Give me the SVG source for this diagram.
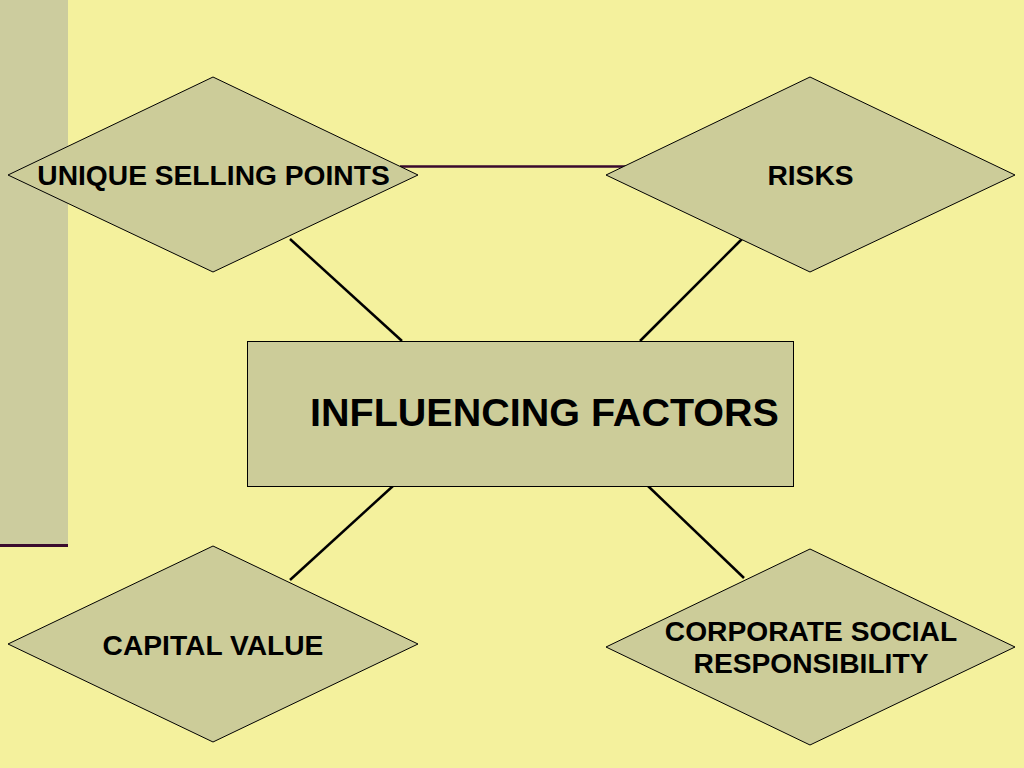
<svg xmlns="http://www.w3.org/2000/svg" width="1024" height="768" viewBox="0 0 1024 768">
<style>
.shape{fill:#CCCC99;stroke:#000;stroke-width:1}
.lbl{font-family:"Liberation Sans",Arial,sans-serif;font-weight:bold;font-size:28.2px;fill:#000;text-anchor:middle}
.conn{stroke:#000;stroke-width:2.5;fill:none}
</style>
<rect x="0" y="0" width="1024" height="768" fill="#F4F19D"/>
<g id="sidebar">
<rect x="0" y="0" width="68" height="545" fill="#CCCC9E"/>
<line x1="0" y1="545.5" x2="68" y2="545.5" stroke="#3A0A2E" stroke-width="3"/>
</g>
<g id="connectors">
<line x1="400" y1="166.5" x2="630" y2="166.5" stroke="#3A0A2E" stroke-width="2.5"/>
<line class="conn" x1="290" y1="239" x2="402" y2="341"/>
<line class="conn" x1="742" y1="239" x2="640" y2="341"/>
<line class="conn" x1="393" y1="486" x2="290" y2="580"/>
<line class="conn" x1="648" y1="486" x2="744" y2="578"/>
</g>
<g id="usp">
<polygon class="shape" points="213,77 418,175 213,272 8,175"/>
<text class="lbl" x="213.5" y="185">UNIQUE SELLING POINTS</text>
</g>
<g id="risks">
<polygon class="shape" points="810,77 1015,175 810,272 606,175"/>
<text class="lbl" x="810.5" y="185">RISKS</text>
</g>
<g id="center">
<rect class="shape" x="247.5" y="341.5" width="546" height="145"/>
<text class="lbl" x="544.5" y="426" style="font-size:39.5px">INFLUENCING FACTORS</text>
</g>
<g id="capital">
<polygon class="shape" points="213,546 418,644 213,742 8,644"/>
<text class="lbl" x="213" y="655">CAPITAL VALUE</text>
</g>
<g id="csr">
<polygon class="shape" points="810,549 1015,647 810,745 606,647"/>
<text class="lbl" x="811" y="641">CORPORATE SOCIAL</text>
<text class="lbl" x="811" y="673">RESPONSIBILITY</text>
</g>
</svg>
